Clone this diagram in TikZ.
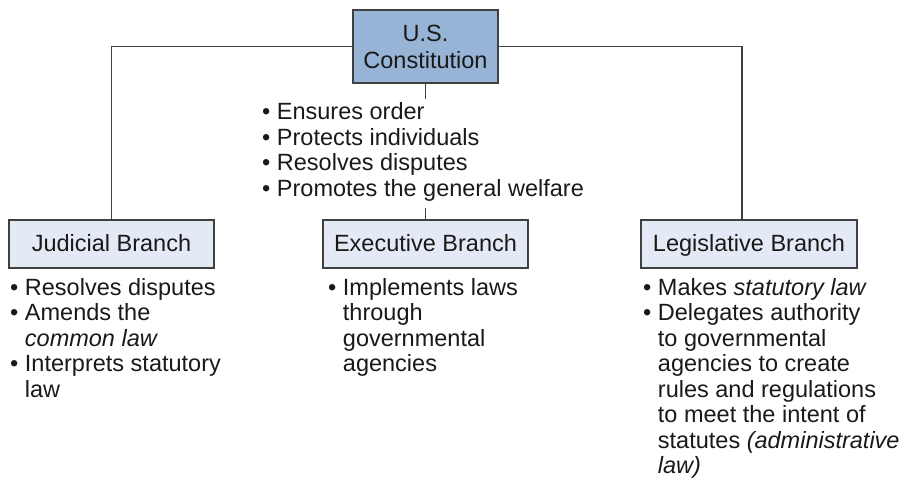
\documentclass[tikz,border=0pt]{standalone}
\usepackage{fontspec}
\setmainfont{Liberation Sans}
\definecolor{constblue}{RGB}{151,179,214}
\definecolor{branchblue}{RGB}{228,234,245}
\definecolor{linegray}{RGB}{64,64,64}
\newcommand{\bulgap}{\hphantom{•\ }}

\begin{document}
\begin{tikzpicture}[x=1pt,y=1pt]
        \tikzstyle{every node}=[font=\fontsize{23.5}{25.5}\selectfont, text=black!90];
        \tikzstyle{const}=[draw=linegray, line width=1.2pt, fill=constblue, minimum width=145pt, minimum height=73pt, align=center];
        \tikzstyle{branch}=[draw=linegray, line width=1.2pt, fill=branchblue, minimum width=205pt, minimum height=48pt, text height=20pt, text depth=5pt];
        \tikzstyle{duties}=[anchor=north west, inner sep=0pt, align=left];
        \tikzstyle{conn}=[draw=linegray, line width=1.3pt];
        \useasboundingbox (0,0) rectangle (903,-482);
        % boxes
        \node (us) [const] at (425.5,-46.5) {U.S.\\[1.5pt]Constitution};
        \node (jud) [branch] at (111.5,-244) {Judicial Branch};
        \node (exe) [branch] at (425.5,-244) {Executive Branch};
        \node (leg) [branch, minimum width=216pt] at (749,-244) {Legislative Branch};
        % lists
        \node (usduties) [duties] at (262,-102.4) {• Ensures order\\• Protects individuals\\• Resolves disputes\\• Promotes the general welfare};
        \node (judduties) [duties] at (10,-278.2) {• Resolves disputes\\• Amends the\\\bulgap\textit{common law}\\• Interprets statutory\\\bulgap law};
        \node (exeduties) [duties] at (328,-278.2) {• Implements laws\\\bulgap through\\\bulgap governmental\\\bulgap agencies};
        \node (legduties) [duties] at (643,-278.2) {• Makes \textit{statutory law}\\• Delegates authority\\\bulgap to governmental\\\bulgap agencies to create\\\bulgap rules and regulations\\\bulgap to meet the intent of\\\bulgap statutes \textit{(administrative}\\\bulgap\textit{law)}};
        % connectors
        \coordinate (legtop) at ([xshift=-7pt]leg.north);
        \coordinate (usstub) at ([yshift=-15pt]us.south);
        \coordinate (exestub) at ([yshift=11pt]exe.north);
        \draw[conn] (us.west) -| (jud.north);
        \draw[conn] (us.east) -| (legtop);
        \draw[conn] (us.south) -- (usstub);
        \draw[conn] (exe.north) -- (exestub);
\end{tikzpicture}
\end{document}
